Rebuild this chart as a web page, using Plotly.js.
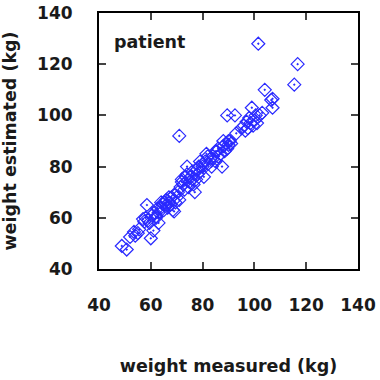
<!DOCTYPE html>
<html><head><meta charset="utf-8">
<script src="https://cdn.plot.ly/plotly-3.0.1.min.js"></script>
<style>html,body{margin:0;padding:0;background:#fff}#c{width:380px;height:380px}</style>
</head><body><div id="c"></div>
<script>
const weightMeasured = [48.8,50.7,52,53.5,55,55.5,54,57,58,59,58.5,60,61,59.5,60.5,62,63,62.5,64,64.5,65,65.5,66,66.5,67,67.5,68,68.5,69,69.5,70,70.5,71,71.5,72,72.5,73,73.5,74,74.5,75,75.5,76,76.5,77,77.5,78,78.5,79,80,80.5,81,81.5,82,83,83.5,84,85,85.5,86,87,87.5,88,88.5,89,89.5,90,90.5,91,89.5,92.5,71,93,95,96,96.5,97,97.5,98,98.5,99,99.5,100,100.5,101,102,103,104,106.5,107,107,101.5,116.7,115.4,62,63,66,74,76,79,82,84,86,88,90,57.5,61.5,64,67,69,72,78,80,85];
const weightEstimated = [49,47.6,52.5,54.5,54,55.5,53,59.5,60,59,65,52,55,58,61,60,62,63.5,64,65.5,63,66,67,64,66,65,68,63,62.5,66,68,70,67,72,75,73,71,76,80,72,74,76,78,73,70,75,77,80,78,80,76,82,85,81,83,80,84,82,86,87,85,80,88,86,89,87,88.5,90,89,100,100,92,93,95,96,94,97.5,95,99,97,103,96,98,100,97,100,101,110,106,106.5,103,128,120,112,60.5,58,65,77,75,82,84,83,84,90,90,58.5,62,66,68,69,74,79,81,86];

const trace = {
  x: weightMeasured, y: weightEstimated, type: 'scatter', mode: 'markers',
  marker: {symbol: 'diamond-open-dot', size: 10, color: '#2a2aff', line: {width: 1.2, color: '#2a2aff'}},
  hoverinfo: 'skip'
};
const tickFont = {family: 'DejaVu Sans', size: 17, color: '#1a1a1a', weight: 'bold'};
const titleFont = {family: 'DejaVu Sans', size: 17.5, color: '#1a1a1a', weight: 'bold'};
const layout = {
  width: 380, height: 380,
  margin: {l: 99, r: 22, t: 13, b: 111},
  paper_bgcolor: '#fff', plot_bgcolor: '#fff',
  showlegend: false,
  font: tickFont,
  xaxis: {range: [40, 140], tickvals: [40,60,80,100,120,140], ticks: 'inside', ticklen: 7, tickwidth: 2,
    mirror: 'ticks', showline: true, linewidth: 2, linecolor: '#000', showgrid: false, zeroline: false,
    ticklabelstandoff: 20, tickfont: tickFont,
    title: {text: 'weight measured (kg)', font: titleFont, standoff: 45}},
  yaxis: {range: [40, 140], tickvals: [40,60,80,100,120,140], ticks: 'inside', ticklen: 7, tickwidth: 2,
    mirror: 'ticks', showline: true, linewidth: 2, linecolor: '#000', showgrid: false, zeroline: false,
    ticklabelstandoff: 21, tickfont: tickFont,
    title: {text: 'weight estimated (kg)', font: titleFont, standoff: 16}},
  annotations: [{text: 'patient', xref: 'paper', yref: 'paper', x: 0.05, y: 0.885, xanchor: 'left', yanchor: 'middle',
    showarrow: false, font: titleFont}]
};
Plotly.newPlot('c', [trace], layout, {staticPlot: true, displayModeBar: false});
</script></body></html>
